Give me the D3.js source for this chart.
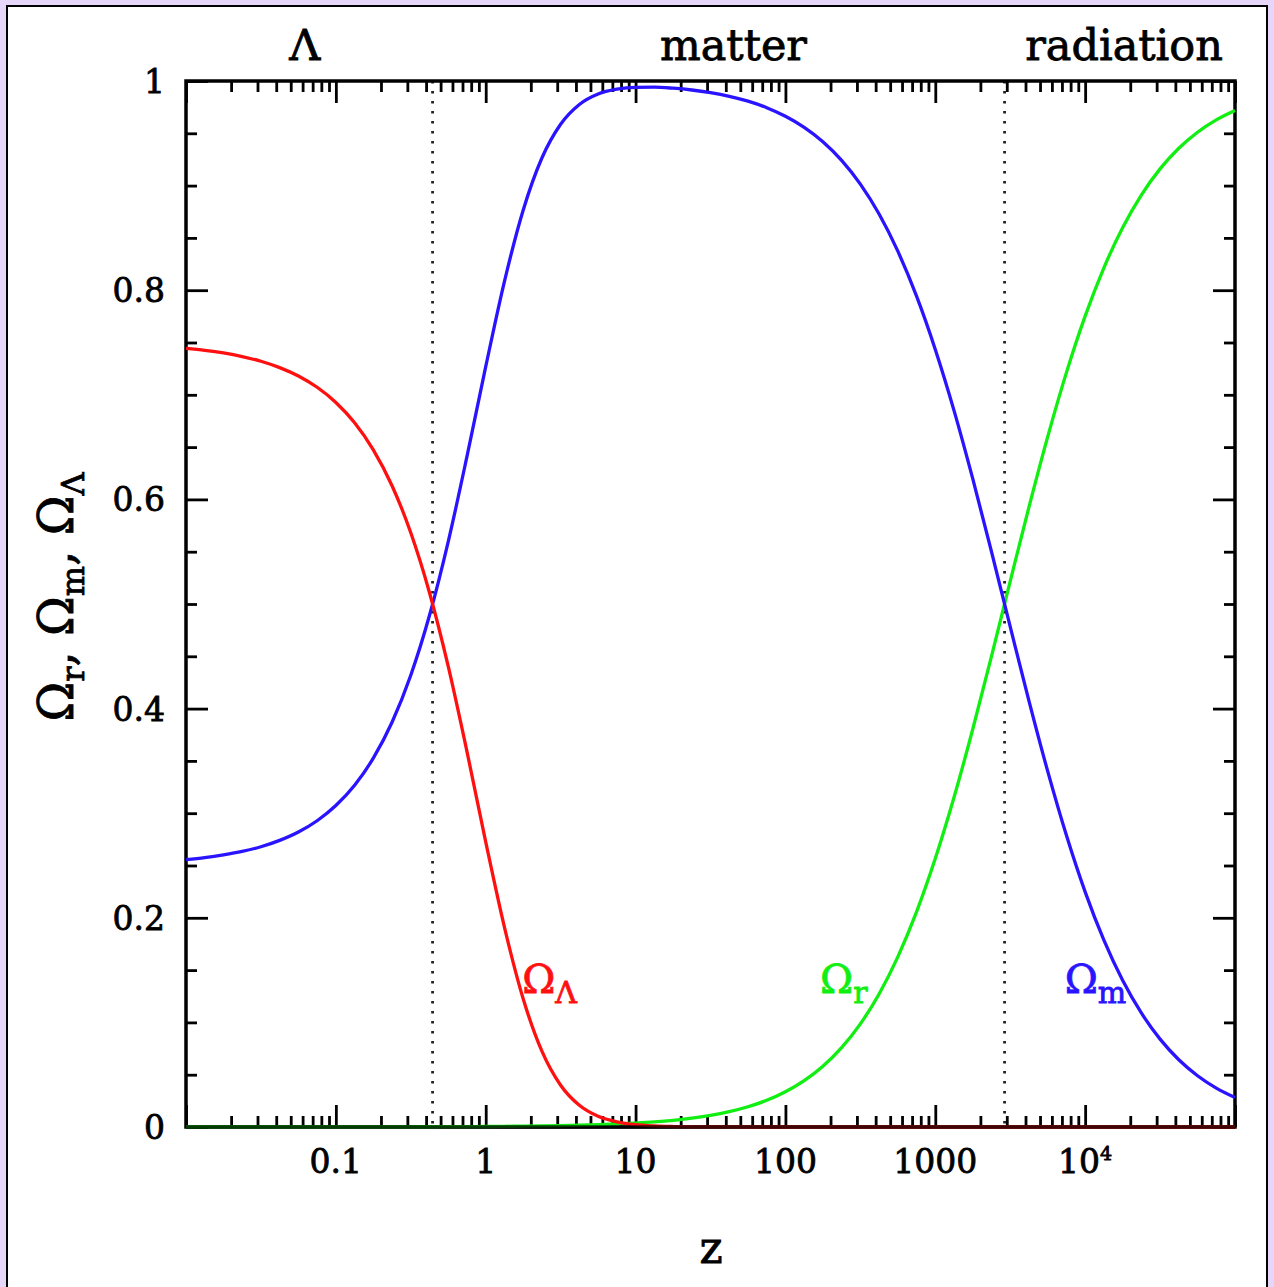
<!DOCTYPE html>
<html>
<head>
<meta charset="utf-8">
<script src="https://cdn.jsdelivr.net/npm/d3@7"></script>
<style>
  body { margin: 0; background: #e6d6fa; }
  svg { display: block; }
  .tick line { stroke: #000; stroke-width: 2.8; }
  text { font-family: "DejaVu Serif", serif; fill: #000; stroke: #000; stroke-width: 0.8; }
</style>
</head>
<body>
<div id="chart"></div>
<script>
// redshift samples (eighth-decade steps in log z) and density parameters
var zSamples = [0.01, 0.01334, 0.01778, 0.02371, 0.03162, 0.04217, 0.05623, 0.07499,
  0.1, 0.1334, 0.1778, 0.2371, 0.3162, 0.4217, 0.5623, 0.7499,
  1, 1.334, 1.778, 2.371, 3.162, 4.217, 5.623, 7.499,
  10, 13.34, 17.78, 23.71, 31.62, 42.17, 56.23, 74.99,
  100, 133.4, 177.8, 237.1, 316.2, 421.7, 562.3, 749.9,
  1000, 1334, 1778, 2371, 3162, 4217, 5623, 7499,
  1e4, 13340, 17780, 23710, 31620, 42170, 56230, 74990,
  1e5];

var omegaM = [0.2556, 0.2575, 0.2601, 0.2634, 0.2679, 0.2740, 0.2820, 0.2928,
  0.3073, 0.3267, 0.3526, 0.3869, 0.4319, 0.4892, 0.5597, 0.6411,
  0.7269, 0.8085, 0.8765, 0.9264, 0.9587, 0.9776, 0.9876, 0.9922,
  0.9940, 0.9941, 0.9931, 0.9914, 0.9888, 0.9853, 0.9807, 0.9745,
  0.9663, 0.9557, 0.9419, 0.9241, 0.9014, 0.8728, 0.8373, 0.7943,
  0.7434, 0.6849, 0.6198, 0.5500, 0.4783, 0.4074, 0.3402, 0.2789,
  0.2248, 0.1786, 0.1402, 0.1090, 0.0840, 0.0643, 0.0490, 0.0372,
  0.0282];

var omegaL = [0.7444, 0.7425, 0.7400, 0.7366, 0.7321, 0.7260, 0.7180, 0.7072,
  0.6927, 0.6733, 0.6474, 0.6131, 0.5681, 0.5108, 0.4403, 0.3589,
  0.2726, 0.1909, 0.1226, 0.0725, 0.0399, 0.0207, 0.0102, 0.0049,
  0.0022, 0.0010, 0.00045, 0.0002, 0.00009, 0.00004, 0.00002, 0.00001,
  0, 0, 0, 0, 0, 0, 0, 0,
  0, 0, 0, 0, 0, 0, 0, 0,
  0, 0, 0, 0, 0, 0, 0, 0,
  0];

var omegaR = [0.00009, 0.00009, 0.00009, 0.00009, 0.00010, 0.00010, 0.00010, 0.00011,
  0.00012, 0.00013, 0.00014, 0.00017, 0.00020, 0.00024, 0.00030, 0.00039,
  0.0005, 0.00065, 0.00084, 0.00108, 0.00138, 0.00176, 0.00226, 0.00291,
  0.0038, 0.0049, 0.0064, 0.0085, 0.0111, 0.0147, 0.0194, 0.0255,
  0.0337, 0.0443, 0.0581, 0.0759, 0.0986, 0.1272, 0.1627, 0.2057,
  0.2566, 0.3152, 0.3803, 0.4500, 0.5217, 0.5926, 0.6598, 0.7212,
  0.7752, 0.8214, 0.8598, 0.8910, 0.9160, 0.9357, 0.9510, 0.9628,
  0.9718];

// equality redshifts (dotted lines)
var zEquality = [0.442, 2900];

var xLabelValues = [0.1, 1, 10, 100, 1000, 1e4];
var xLabelText = ["0.1", "1", "10", "100", "1000", "10"];
var yLabelValues = [0, 0.2, 0.4, 0.6, 0.8, 1];
var yLabelText = ["0", "0.2", "0.4", "0.6", "0.8", "1"];

var eraNames = ["\u039B", "matter", "radiation"];
var eraZ = [0.062, 45, 18200];

var W = 1274, H = 1287;
var plotLeft = 186, plotRight = 1235, plotTop = 81, plotBottom = 1127;

var svg = d3.select("#chart").append("svg")
    .attr("width", W).attr("height", H);

// outer page box
svg.append("rect")
    .attr("x", 7).attr("y", 6).attr("width", 1260).attr("height", 1300)
    .style("fill", "#fff").style("stroke", "#000").style("stroke-width", 2);

var x = d3.scaleLog().domain([0.01, 1e5]).range([plotLeft, plotRight]);
var y = d3.scaleLinear().domain([0, 1]).range([plotBottom, plotTop]);

var xMajor = x.ticks().filter(function(d){ return Math.abs(Math.log10(d) - Math.round(Math.log10(d))) < 1e-9; });
var xMinor = x.ticks().filter(function(d){ return xMajor.indexOf(d) < 0; });
var yMajor = y.ticks(5);
var yMinor = y.ticks(20).filter(function(d){ return Math.abs(d * 5 - Math.round(d * 5)) > 1e-9; });

var addAxis = function(axisFn, scale, values, size, transform){
    var g = svg.append("g")
        .attr("transform", transform)
        .call(axisFn(scale).tickValues(values).tickSize(-size).tickFormat(""));
    g.select(".domain").remove();
};

addAxis(d3.axisBottom, x, xMajor, 22, "translate(0," + plotBottom + ")");
addAxis(d3.axisBottom, x, xMinor, 11, "translate(0," + plotBottom + ")");
addAxis(d3.axisTop, x, xMajor, 22, "translate(0," + plotTop + ")");
addAxis(d3.axisTop, x, xMinor, 11, "translate(0," + plotTop + ")");
addAxis(d3.axisLeft, y, yMajor, 22, "translate(" + plotLeft + ",0)");
addAxis(d3.axisLeft, y, yMinor, 11, "translate(" + plotLeft + ",0)");
addAxis(d3.axisRight, y, yMajor, 22, "translate(" + plotRight + ",0)");
addAxis(d3.axisRight, y, yMinor, 11, "translate(" + plotRight + ",0)");

// dotted equality lines
svg.selectAll(".eq")
    .data(zEquality)
    .enter()
    .append("line")
    .attr("class", "eq")
    .attr("x1", function(d){ return x(d); })
    .attr("x2", function(d){ return x(d); })
    .attr("y1", plotTop).attr("y2", plotBottom)
    .style("stroke", "#222")
    .style("stroke-width", 2.8)
    .style("stroke-dasharray", "2.5,7.5");

// plot frame
svg.append("rect")
    .attr("x", plotLeft).attr("y", plotTop)
    .attr("width", plotRight - plotLeft).attr("height", plotBottom - plotTop)
    .style("fill", "none").style("stroke", "#000").style("stroke-width", 3.5);

var line = function(values){
    return d3.line()
        .x(function(d, i){ return x(zSamples[i]); })
        .y(function(d){ return y(d); })
        .curve(d3.curveMonotoneX)(values);
};

var series = [
    {values: omegaR, color: "#11ee11"},
    {values: omegaM, color: "#2a14ff"},
    {values: omegaL, color: "#ff1010"}
];

svg.selectAll(".curve")
    .data(series)
    .enter()
    .append("path")
    .attr("class", "curve")
    .attr("d", function(d){ return line(d.values); })
    .style("fill", "none")
    .style("stroke", function(d){ return d.color; })
    .style("stroke-width", 3.3);

// darken the bottom edge where curves sit at zero
svg.append("line")
    .attr("x1", plotLeft).attr("x2", plotRight)
    .attr("y1", plotBottom).attr("y2", plotBottom)
    .style("stroke", "#000").style("stroke-opacity", 0.75).style("stroke-width", 3.5);

// tick labels
var xl = svg.selectAll(".xl")
    .data(xLabelValues)
    .enter()
    .append("text")
    .attr("class", "xl")
    .attr("x", function(d){ return x(d); })
    .attr("y", 1173)
    .attr("text-anchor", "middle")
    .style("font-size", "33px")
    .text(function(d, i){ return xLabelText[i]; });
xl.filter(function(d){ return d === 1e4; })
    .append("tspan")
    .attr("dy", -13)
    .style("font-size", "19px")
    .text("4");

svg.selectAll(".yl")
    .data(yLabelValues)
    .enter()
    .append("text")
    .attr("class", "yl")
    .attr("x", 165)
    .attr("y", function(d){ return y(d) + 12; })
    .attr("text-anchor", "end")
    .style("font-size", "33px")
    .text(function(d, i){ return yLabelText[i]; });

// era labels above the frame
svg.selectAll(".era")
    .data(eraNames)
    .enter()
    .append("text")
    .attr("class", "era")
    .attr("x", function(d, i){ return x(eraZ[i]); })
    .attr("y", 60)
    .attr("text-anchor", "middle")
    .style("font-size", "43px")
    .text(function(d){ return d; });

// x title
svg.append("text")
    .attr("x", 711).attr("y", 1263)
    .attr("text-anchor", "middle")
    .style("font-size", "44px")
    .text("z");

// y title
var yt = svg.append("text")
    .attr("transform", "translate(73,597) rotate(-90)")
    .attr("text-anchor", "middle")
    .style("font-size", "48px");
var ytParts = [["\u03A9", "r", ",  "], ["\u03A9", "m", ",  "], ["\u03A9", "\u039B", ""]];
ytParts.forEach(function(p){
    yt.append("tspan").text(p[0]);
    yt.append("tspan").attr("dy", 11).style("font-size", "32px").text(p[1]);
    yt.append("tspan").attr("dy", -11).text(p[2]);
});

// curve labels
var curveLabels = [
    {sub: "\u039B", z: 1.75, color: "#ff1010"},
    {sub: "r", z: 170, color: "#11ee11"},
    {sub: "m", z: 7300, color: "#2a14ff"}
];
curveLabels.forEach(function(c){
    var t = svg.append("text")
        .attr("x", x(c.z)).attr("y", 993)
        .style("font-size", "40px")
        .style("fill", c.color).style("stroke", c.color);
    t.append("tspan").text("\u03A9");
    t.append("tspan").attr("dy", 10).style("font-size", "30px").text(c.sub);
});
</script>
</body>
</html>
